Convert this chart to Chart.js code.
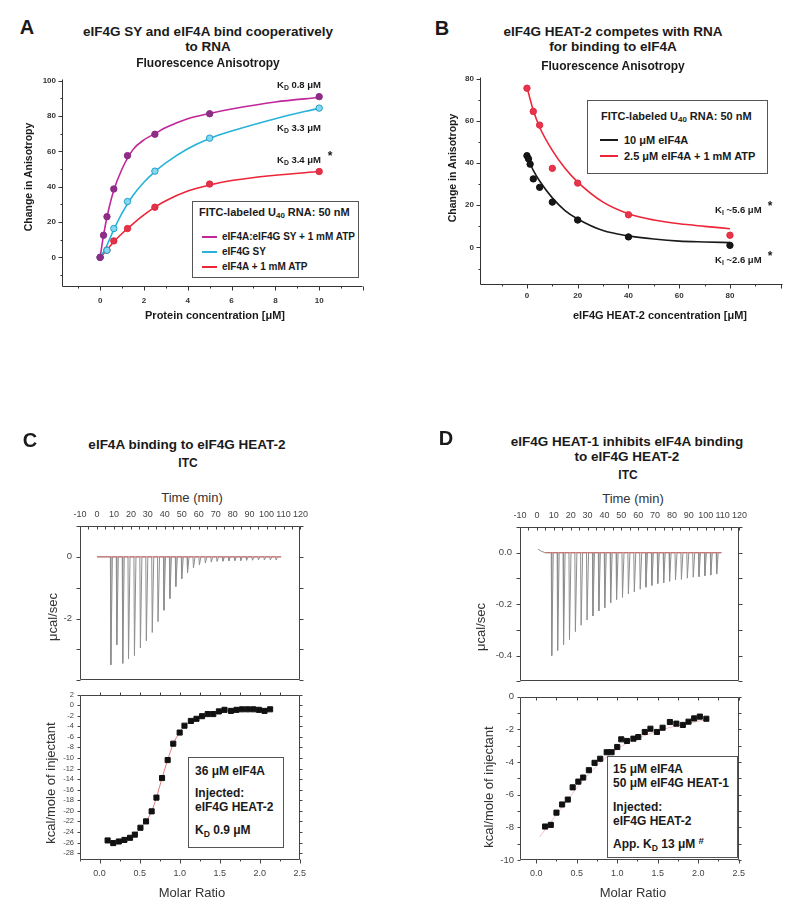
<!DOCTYPE html>
<html>
<head>
<meta charset="utf-8">
<title>eIF4G / eIF4A binding</title>
<script src="https://cdn.jsdelivr.net/npm/chart.js@4.4.1/dist/chart.umd.min.js"></script>
<style>
  body { margin: 0; background: #fff; }
  #page { position: relative; width: 800px; height: 907px; overflow: hidden;
          font-family: "Liberation Sans", Arial, sans-serif; color: #1a1a1a; }
  #page canvas { position: absolute; }
  .txt { position: absolute; white-space: nowrap; line-height: 1; }
  .box { position: absolute; border: 1px solid #555; background: #fff; }
  sub { font-size: 72%; vertical-align: -0.3em; line-height: 0; }
  sup { font-size: 80%; vertical-align: 0.45em; line-height: 0; }
</style>
</head>
<body>
<div id="page"></div>
<script>
// ---- A: anisotropy vs protein concentration (uM) ----
const concA = [0, 0.156, 0.3125, 0.625, 1.25, 2.5, 5, 10];
const complexATP = [0, 12.5, 23, 38.7, 57.6, 69.7, 81.3, 91];
const concA2 = [0, 0.3125, 0.625, 1.25, 2.5, 5, 10];
const syOnly = [0, 4, 16.3, 31.6, 48.8, 67.5, 84.5];
const eif4aATP = [0, 4.1, 9.3, 16.3, 28.4, 41.5, 48.6];
// fitted curves
const fitConcA = [0, 0.15, 0.3, 0.6, 1, 1.5, 2, 2.5, 3, 4, 5, 6, 8, 10];
const fitComplex = [0, 12, 22, 37, 50, 61, 66.5, 70, 73.5, 78.5, 81.5, 84, 88, 90.5];
const fitSY = [0, 3, 6.5, 15, 25, 35, 42.5, 48.5, 53.5, 61.5, 67.3, 71.5, 78.5, 84.5];
const fitATP = [0, 2, 4, 8.5, 13.5, 19, 24, 28.4, 32, 37.5, 41, 43.5, 46.5, 48.6];

// ---- B: competition with HEAT-2 (uM) ----
const heatB = [0, 0.625, 1.25, 2.5, 5, 10, 20, 40, 80];
const eif4a10 = [43.5, 42, 39.5, 32.5, 28.5, 21.5, 13, 5, 1];
const heatB2 = [0, 2.5, 5, 10, 20, 40, 80];
const eif4a25ATP = [75.5, 64.5, 58, 37.5, 30.5, 15.5, 5.8];
const fitHeatB = [0, 2.5, 5, 10, 15, 20, 30, 40, 50, 60, 70, 80];
const fit10 = [43.5, 36.5, 31.5, 23.5, 17.5, 13.5, 8, 5.5, 4, 3, 2.6, 2.3];
const fit25 = [76, 65, 57, 46, 37.5, 31, 21.5, 16, 13, 11.2, 10, 8.9];

// ---- C: ITC eIF4A + HEAT-2 ----
const injTimeC = [7.9, 11.4, 14.9, 18.3, 21.8, 25.3, 28.8, 32.3, 35.7, 39.2, 42.7, 46.2, 49.7, 53.1, 56.6,
  60.1, 63.6, 67.1, 70.5, 74.0, 77.5, 81.0, 84.5, 87.9, 91.4, 94.9, 98.4, 101.9, 105.3];
const peakC = [-3.5, -2.85, -3.45, -3.3, -3.2, -2.95, -2.72, -2.45, -2.1, -1.73, -1.35, -0.96, -0.71, -0.51, -0.36,
  -0.26, -0.2, -0.17, -0.15, -0.14, -0.13, -0.12, -0.12, -0.11, -0.11, -0.1, -0.1, -0.1, -0.1];
const leadTC = [0]; const leadC = [0]; const endTC = 108.6;
const ratioC = [0.10, 0.17, 0.24, 0.31, 0.38, 0.44, 0.51, 0.58, 0.65, 0.71, 0.78, 0.85, 0.92, 1.00, 1.06,
  1.14, 1.21, 1.28, 1.35, 1.42, 1.49, 1.56, 1.64, 1.71, 1.78, 1.85, 1.92, 1.99, 2.06, 2.13];
const heatC = [-25.6, -26.1, -25.8, -25.5, -25.1, -24.5, -23.2, -22.0, -20.1, -17.5, -13.8, -10.4, -7.3, -5.2, -3.9,
  -3.0, -2.6, -2.1, -1.7, -1.7, -1.2, -0.9, -1.1, -0.9, -0.8, -0.8, -0.8, -0.9, -1.1, -0.8];

// ---- D: ITC with HEAT-1 present ----
const injTimeD = [8.5, 12.0, 15.5, 19.0, 22.5, 25.9, 29.4, 32.9, 36.4, 39.9, 43.4, 46.9, 50.4, 53.9, 57.4,
  60.9, 64.3, 67.8, 71.3, 74.8, 78.3, 81.8, 85.3, 88.8, 92.3, 95.7, 99.2, 102.7, 106.2];
const peakD = [-0.40, -0.38, -0.357, -0.338, -0.307, -0.282, -0.262, -0.246, -0.226, -0.214, -0.195, -0.182, -0.174,
  -0.16, -0.152, -0.142, -0.134, -0.127, -0.12, -0.117, -0.111, -0.106, -0.104, -0.099, -0.095, -0.093, -0.09, -0.087, -0.083];
const leadTD = [0.7, 2.5, 5]; const leadD = [0.014, 0.006, 0]; const endTD = 109.3;
const ratioD = [0.11, 0.18, 0.25, 0.32, 0.39, 0.45, 0.52, 0.58, 0.65, 0.72, 0.79, 0.87, 0.93, 1.00, 1.05,
  1.12, 1.20, 1.26, 1.34, 1.41, 1.49, 1.56, 1.65, 1.73, 1.81, 1.88, 1.95, 2.02, 2.10];
const heatD = [-7.95, -7.85, -7.1, -6.6, -6.3, -5.55, -5.2, -4.95, -4.5, -4.05, -3.8, -3.4, -3.4, -3.08, -2.61,
  -2.71, -2.57, -2.47, -2.16, -1.96, -2.16, -1.90, -1.55, -1.65, -1.73, -1.53, -1.33, -1.22, -1.35];
const fitRatioD = [0.04, 0.3, 0.6, 1.0, 1.5, 2.1];
const fitD = [-8.6, -6.9, -5.0, -3.2, -2.1, -1.4];

const page = document.getElementById('page');
Chart.defaults.font.family = '"Liberation Sans", Arial, sans-serif';

const xy = (xs, ys) => xs.map((x, i) => ({ x, y: ys[i] }));
const steps = (a, b, s) => { const r = []; for (let v = a; v <= b + 1e-9; v += s) r.push(+v.toFixed(4)); return r; };

function pts(xs, ys, edge, fill, style, r) {
  return { data: xy(xs, ys), showLine: false, pointStyle: style || 'circle', pointRadius: r || 3.2,
    pointBorderColor: edge, pointBackgroundColor: fill, pointBorderWidth: 1, order: 0 };
}
function curve(data, color, w, smooth) {
  return { data, showLine: true, pointRadius: 0, borderColor: color, borderWidth: w,
    cubicInterpolationMode: smooth ? 'monotone' : 'default', tension: 0, order: 1 };
}
function trace(leadT, leadY, times, peaks, endT) {
  const p = xy(leadT, leadY);
  times.forEach((t, i) => p.push({ x: t, y: 0 }, { x: t + 0.3, y: peaks[i] }, { x: t + 1.2, y: 0 }));
  p.push({ x: endT, y: 0 });
  return p;
}

function axis(pos, min, max, vals, size, font, pad, color, fmt) {
  return {
    type: 'linear', position: pos, min, max,
    grid: { display: false, drawTicks: false }, border: { display: false },
    afterBuildTicks: s => { s.ticks = vals.map(v => ({ value: v })); },
    afterFit: s => { if (pos === 'left') s.width = size; else s.height = size; },
    ticks: { font, color, padding: pad, autoSkip: false, maxRotation: 0, callback: fmt || (v => String(v)) }
  };
}

// frame, axis lines and tick marks, placed with the chart's own scales
function framePlugin(spec) {
  return {
    id: 'frame',
    afterDraw(chart) {
      const { ctx, chartArea: a } = chart;
      ctx.save();
      ctx.strokeStyle = spec.color;
      ctx.lineWidth = 1;
      ctx.beginPath();
      const L = Math.round(a.left) + 0.5, R = Math.round(a.right) - 0.5;
      const T = Math.round(a.top) + 0.5, B = Math.round(a.bottom) - 0.5;
      if (spec.box) ctx.rect(L, T, R - L, B - T);
      if (spec.axes) { ctx.moveTo(L, T); ctx.lineTo(L, B); ctx.lineTo(R, B); }
      spec.marks.forEach(m => {
        const sc = chart.scales[m.scale];
        m.at.forEach(v => {
          const p = Math.round(sc.getPixelForValue(v)) + 0.5;
          if (m.side === 'left') { ctx.moveTo(L, p); ctx.lineTo(L - m.len, p); }
          if (m.side === 'right') { ctx.moveTo(R, p); ctx.lineTo(R + m.len, p); }
          if (m.side === 'bottom') { ctx.moveTo(p, B); ctx.lineTo(p, B + m.len); }
          if (m.side === 'top') { ctx.moveTo(p, T); ctx.lineTo(p, T - m.len); }
        });
      });
      ctx.stroke();
      ctx.restore();
    }
  };
}

// area = [x0, y0, x1, y1] of the plot, m = [left, top, right, bottom] margins
function panel(area, m, datasets, scales, pad, spec) {
  const cv = document.createElement('canvas');
  const w = area[2] - area[0] + m[0] + m[2];
  const h = area[3] - area[1] + m[1] + m[3];
  cv.width = w; cv.height = h;
  cv.style.left = (area[0] - m[0]) + 'px';
  cv.style.top = (area[1] - m[1]) + 'px';
  cv.style.width = w + 'px'; cv.style.height = h + 'px';
  page.appendChild(cv);
  return new Chart(cv, {
    type: 'scatter',
    data: { datasets },
    options: {
      responsive: false, animation: false, events: [],
      layout: { padding: Object.assign({ left: 0, top: 0, right: 0, bottom: 0 }, pad) },
      plugins: { legend: { display: false }, tooltip: { enabled: false } },
      scales
    },
    plugins: [framePlugin(spec)]
  });
}

const boldTick = { size: 8, weight: 'bold' };
const itcTick = { size: 9 };
const oneDec = v => v.toFixed(1);

// Panel A
panel([62, 76, 363, 287], [50, 8, 8, 22], [
  pts(concA, complexATP, '#8a2a84', '#8f2c88'),
  pts(concA2, syOnly, '#1d9fcb', '#86d8ef'),
  pts(concA2, eif4aATP, '#de2a40', '#e4314a'),
  curve(xy(fitConcA, fitComplex), '#c0279c', 1.6, true),
  curve(xy(fitConcA, fitSY), '#27b3d9', 1.6, true),
  curve(xy(fitConcA, fitATP), '#ec2638', 1.6, true)
], {
  x: axis('bottom', -1.74, 12, steps(0, 10, 2), 22, boldTick, 9, '#333'),
  y: axis('left', -16.8, 101.1, steps(0, 100, 20), 50, boldTick, 6, '#333')
}, { top: 8, right: 8 }, {
  color: '#333', axes: true, marks: [
    { scale: 'x', side: 'bottom', at: steps(0, 12, 2), len: 4 },
    { scale: 'x', side: 'bottom', at: steps(-1, 11, 2), len: 2 },
    { scale: 'y', side: 'left', at: steps(0, 100, 20), len: 4 },
    { scale: 'y', side: 'left', at: steps(-10, 90, 20), len: 2 }
  ]
});

// Panel B
panel([480, 74, 783, 285], [40, 8, 12, 22], [
  pts(heatB, eif4a10, '#111', '#161616'),
  pts(heatB2, eif4a25ATP, '#e02a42', '#e8344c'),
  curve(xy(fitHeatB, fit10), '#1a1a1a', 1.6, true),
  curve(xy(fitHeatB, fit25), '#ec2638', 1.6, true)
], {
  x: axis('bottom', -18.5, 100.9, steps(0, 80, 20), 22, boldTick, 6, '#333'),
  y: axis('left', -17.8, 80.9, steps(0, 80, 20), 40, boldTick, 6, '#333')
}, { top: 8, right: 12 }, {
  color: '#333', axes: true, marks: [
    { scale: 'x', side: 'bottom', at: steps(0, 100, 20), len: 4 },
    { scale: 'x', side: 'bottom', at: steps(-10, 90, 20), len: 2 },
    { scale: 'y', side: 'left', at: steps(0, 80, 20), len: 4 },
    { scale: 'y', side: 'left', at: steps(-10, 70, 20), len: 2 }
  ]
});

// Panel C upper: raw heat rate
panel([80, 526, 304, 692], [30, 20, 10, 2], [
  curve(xy([0, endTC], [0, 0]), '#d06a6a', 1, false),
  curve(trace(leadTC, leadC, injTimeC, peakC, endTC), '#8e8e8e', 1, false)
], {
  x: axis('top', -10, 120, steps(-10, 120, 10), 20, itcTick, 6, '#444'),
  y: axis('left', -4, 1, [0, -2], 30, { size: 9.5 }, 8, '#444')
}, { right: 10, bottom: 2 }, {
  color: '#444', box: true, marks: [
    { scale: 'x', side: 'top', at: steps(-10, 120, 5), len: -3 },
    { scale: 'y', side: 'left', at: steps(-4, 1, 1), len: 4 },
    { scale: 'y', side: 'right', at: steps(-4, 1, 1), len: 4 }
  ]
});

// Panel C lower: integrated heats
panel([80, 692, 304, 860], [30, 8, 10, 22], [
  pts(ratioC, heatC, '#111', '#111', 'rect', 3.6),
  curve(xy(ratioC, heatC), '#e07a7a', 1, true)
], {
  x: axis('bottom', -0.245, 2.5, steps(0, 2.5, 0.5), 22, itcTick, 8, '#444', oneDec),
  y: axis('left', -29.3, 2, steps(-28, 2, 2), 30, { size: 7.5 }, 6, '#444')
}, { top: 8, right: 10 }, {
  color: '#444', box: true, marks: [
    { scale: 'x', side: 'bottom', at: steps(0, 2.5, 0.5), len: 4 },
    { scale: 'x', side: 'bottom', at: steps(-0.25, 2.25, 0.5), len: 2 },
    { scale: 'x', side: 'top', at: steps(0, 2.25, 0.25), len: 3 },
    { scale: 'y', side: 'left', at: steps(-28, 2, 2), len: 3 },
    { scale: 'y', side: 'right', at: steps(-28, 2, 2), len: 3 }
  ]
});

// Panel D upper
panel([520, 527, 743, 693], [34, 20, 10, 2], [
  curve(xy([5, endTD], [0, 0]), '#d06a6a', 1, false),
  curve(trace(leadTD, leadD, injTimeD, peakD, endTD), '#8e8e8e', 1, false)
], {
  x: axis('top', -10, 120, steps(-10, 120, 10), 20, itcTick, 6, '#444'),
  y: axis('left', -0.5, 0.1, [0, -0.2, -0.4], 34, { size: 9.5 }, 8, '#444', oneDec)
}, { right: 10, bottom: 2 }, {
  color: '#444', box: true, marks: [
    { scale: 'x', side: 'top', at: steps(-10, 120, 5), len: -3 },
    { scale: 'y', side: 'left', at: steps(-0.5, 0.1, 0.1), len: 4 },
    { scale: 'y', side: 'right', at: steps(-0.5, 0.1, 0.1), len: 4 }
  ]
});

// Panel D lower
panel([520, 693, 743, 860], [34, 8, 10, 22], [
  pts(ratioD, heatD, '#111', '#111', 'rect', 3.6),
  curve(xy(fitRatioD, fitD), '#f2c0c0', 1, true)
], {
  x: axis('bottom', -0.2, 2.5, steps(0, 2.5, 0.5), 22, itcTick, 8, '#444', oneDec),
  y: axis('left', -10, 0, steps(-10, 0, 2), 34, { size: 9.5 }, 6, '#444')
}, { top: 8, right: 10 }, {
  color: '#444', box: true, marks: [
    { scale: 'x', side: 'bottom', at: steps(0, 2.5, 0.5), len: 4 },
    { scale: 'x', side: 'bottom', at: steps(0.25, 2.25, 0.5), len: 2 },
    { scale: 'x', side: 'top', at: steps(0, 2.5, 0.25), len: -3 },
    { scale: 'y', side: 'left', at: steps(-10, 0, 1), len: 3 },
    { scale: 'y', side: 'right', at: steps(-10, 0, 1), len: 3 }
  ]
});

// ---- text, legends, boxes ----
function put(html, x, y, css, mode) {
  const el = document.createElement('div');
  el.className = 'txt';
  el.innerHTML = html;
  el.style.cssText += css;
  el.style.left = x + 'px';
  el.style.top = y + 'px';
  let tf = mode === 'left' ? 'translate(0,-50%)' : 'translate(-50%,-50%)';
  if (mode === 'rot') tf += ' rotate(-90deg)';
  el.style.transform = tf;
  page.appendChild(el);
}
function box(x, y, w, h) {
  const d = document.createElement('div');
  d.className = 'box';
  Object.assign(d.style, { left: x + 'px', top: y + 'px', width: w + 'px', height: h + 'px' });
  page.appendChild(d);
}
function swatch(x1, x2, y, color) {
  const d = document.createElement('div');
  Object.assign(d.style, { position: 'absolute', left: x1 + 'px', top: (y - 1) + 'px',
    width: (x2 - x1) + 'px', height: '2px', background: color });
  page.appendChild(d);
}

const LETTER = 'font-weight:bold;font-size:20px;';
const TITLE = 'font-weight:bold;font-size:13.5px;';
const SUBT = 'font-weight:bold;font-size:12px;';
const AXB = 'font-weight:bold;font-size:10.5px;';
const LEGT = 'font-weight:bold;font-size:11px;';
const LEGA = 'font-weight:bold;font-size:10px;';
const LEGB = 'font-weight:bold;font-size:11px;';
const NOTE = 'font-weight:bold;font-size:9.5px;';
const STAR = 'font-weight:bold;font-size:12px;';
const ITCAX = 'font-size:13px;color:#333;';
const BOXT = 'font-weight:bold;font-size:12px;';

// A
put('A', 27, 27, LETTER);
put('eIF4G SY and eIF4A bind cooperatively', 208, 32, TITLE);
put('to RNA', 208, 47, TITLE);
put('Fluorescence Anisotropy', 208, 63, SUBT);
put('Change in Anisotropy', 28, 177, AXB, 'rot');
put('Protein concentration [μM]', 215, 315, 'font-weight:bold;font-size:11px;');
put('K<sub>D</sub> 0.8 μM', 277, 85, NOTE, 'left');
put('K<sub>D</sub> 3.3 μM', 277, 128, NOTE, 'left');
put('K<sub>D</sub> 3.4 μM', 277, 160, NOTE, 'left');
put('*', 330, 156, STAR);
box(192, 201, 165, 75);
put('FITC-labeled U<sub>40</sub> RNA: 50 nM', 199, 212, LEGT, 'left');
swatch(202, 217, 237, '#c0279c'); put('eIF4A:eIF4G SY + 1 mM ATP', 222, 237, LEGA, 'left');
swatch(202, 217, 252, '#27b3d9'); put('eIF4G SY', 222, 252, LEGA, 'left');
swatch(202, 217, 267, '#ec2638'); put('eIF4A + 1 mM ATP', 222, 267, LEGA, 'left');

// B
put('B', 442, 28, LETTER);
put('eIF4G HEAT-2 competes with RNA', 613, 32, TITLE);
put('for binding to eIF4A', 613, 47, TITLE);
put('Fluorescence Anisotropy', 613, 66, SUBT);
put('Change in Anisotropy', 452, 168, AXB, 'rot');
put('eIF4G HEAT-2 concentration [μM]', 660, 315, 'font-weight:bold;font-size:11px;');
put('K<sub>I</sub> ~5.6 μM', 715, 210, NOTE, 'left');
put('*', 770, 206, STAR);
put('K<sub>I</sub> ~2.6 μM', 715, 260, NOTE, 'left');
put('*', 770, 256, STAR);
box(587, 100, 179, 72);
put('FITC-labeled U<sub>40</sub> RNA: 50 nM', 601, 116, LEGT, 'left');
swatch(600, 618, 140, '#1a1a1a'); put('10 μM eIF4A', 624, 140, LEGB, 'left');
swatch(600, 618, 156, '#ec2638'); put('2.5 μM eIF4A + 1 mM ATP', 624, 156, LEGB, 'left');

// C
put('C', 30, 440, LETTER);
put('eIF4A binding to eIF4G HEAT-2', 187, 445, TITLE);
put('ITC', 188, 463, SUBT);
put('Time (min)', 192, 497, ITCAX);
put('μcal/sec', 52, 617, ITCAX, 'rot');
put('kcal/mole of injectant', 50, 783, ITCAX, 'rot');
put('Molar Ratio', 192, 892, ITCAX);
box(188, 757, 94, 89);
put('36 μM eIF4A', 195, 771, BOXT, 'left');
put('Injected:', 195, 793, BOXT, 'left');
put('eIF4G HEAT-2', 195, 807, BOXT, 'left');
put('K<sub>D</sub> 0.9 μM', 195, 830, BOXT, 'left');

// D
put('D', 446, 438, LETTER);
put('eIF4G HEAT-1 inhibits eIF4A binding', 627, 442, TITLE);
put('to eIF4G HEAT-2', 627, 457, TITLE);
put('ITC', 628, 475, SUBT);
put('Time (min)', 633, 498, ITCAX);
put('μcal/sec', 480, 627, ITCAX, 'rot');
put('kcal/mole of injectant', 488, 787, ITCAX, 'rot');
put('Molar Ratio', 633, 892, ITCAX);
box(607, 756, 129, 100);
put('15 μM eIF4A', 613, 769, BOXT, 'left');
put('50 μM eIF4G HEAT-1', 613, 783, BOXT, 'left');
put('Injected:', 613, 807, BOXT, 'left');
put('eIF4G HEAT-2', 613, 821, BOXT, 'left');
put('App. K<sub>D</sub> 13 μM <sup>#</sup>', 613, 844, BOXT, 'left');
</script>
</body>
</html>
